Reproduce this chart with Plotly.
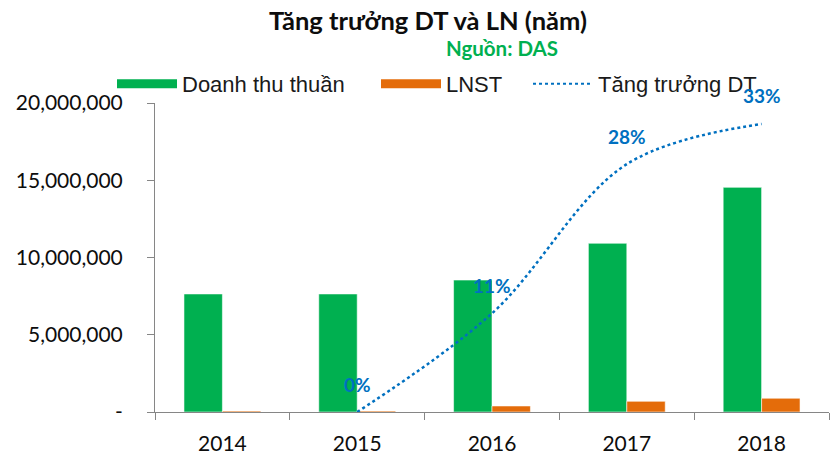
import plotly.graph_objects as go

years = ["2014", "2015", "2016", "2017", "2018"]
doanh_thu = [7640000, 7640000, 8540000, 10920000, 14540000]
lnst = [60000, 60000, 390000, 690000, 890000]
tang_truong = [None, 0.0, 0.113, 0.284, 0.33]
y_ticks = [0, 5000000, 10000000, 15000000, 20000000]
y_ticktext = ["-", "5,000,000", "10,000,000", "15,000,000", "20,000,000"]

GREEN = "#00B050"
ORANGE = "#E46C0A"
BLUE = "#0070C0"
AXIS = "#868686"
TXT = "#0d0d0d"

fig = go.Figure()
fig.add_trace(go.Bar(x=years, y=doanh_thu, name="Doanh thu thuần", marker=dict(color=GREEN, line=dict(color="rgba(255,255,255,0.55)", width=1)), showlegend=False))
fig.add_trace(go.Bar(x=years, y=lnst, name="LNST", marker=dict(color=ORANGE, line=dict(color="rgba(255,255,255,0.55)", width=1)), showlegend=False))
fig.add_trace(go.Scatter(x=years, y=tang_truong, name="Tăng trưởng DT", yaxis="y2", mode="lines",
                         line=dict(color=BLUE, width=2.5, dash="dot", shape="spline", smoothing=1.0),
                         connectgaps=False, showlegend=False))
# legend proxies (one legend each, for positioning)
fig.add_trace(go.Scatter(x=[None], y=[None], mode="lines", name="Doanh thu thuần", line=dict(color=GREEN, width=9), legend="legend"))
fig.add_trace(go.Scatter(x=[None], y=[None], mode="lines", name="LNST", line=dict(color=ORANGE, width=9), legend="legend2"))
fig.add_trace(go.Scatter(x=[None], y=[None], mode="lines", name="Tăng trưởng DT", yaxis="y2", line=dict(color=BLUE, width=2, dash="dot"), legend="legend3"))

for i, v in enumerate(tang_truong):
    if v is None:
        continue
    fig.add_annotation(x=i, y=v, xref="x", yref="y2", text=f"{round(v*100)}%", showarrow=False,
                       yshift=28, font=dict(family="Lato", size=19, color=BLUE, weight="bold"))

fig.add_annotation(x=428/831, xref="paper", y=1.178, yref="paper", text="Nguồn: DAS", showarrow=False,
                   font=dict(family="Lato", size=20.5, color=GREEN, weight="bold"), xanchor="center", yanchor="middle")

def leg(x):
    return dict(orientation="h", xref="container", yref="container", x=x/831, y=1-84/456, yanchor="middle", xanchor="left",
                font=dict(family="Liberation Sans", size=22, color="#1a1a1a"), bgcolor="rgba(0,0,0,0)",
                itemwidth=60)

fig.update_layout(
    width=831, height=456,
    margin=dict(l=155, r=2, t=103, b=44, autoexpand=False),
    paper_bgcolor="white", plot_bgcolor="white",
    barmode="group", bargap=0.43, bargroupgap=0,
    title=dict(text="<b>Tăng trưởng DT và LN (năm)</b>", x=428/831, xanchor="center", y=1-21/456, yanchor="middle",
               xref="container", yref="container", font=dict(family="Lato", size=25.5, color=TXT)),
    legend=leg(112), legend2=leg(376), legend3=leg(528),
    xaxis=dict(type="category", range=[-0.5, 4.5], showline=True, linecolor=AXIS, linewidth=1,
               ticks="outside", tickson="boundaries", ticklen=7, tickcolor=AXIS, showgrid=False,
               tickfont=dict(family="Lato", size=21, color=TXT), ticklabelstandoff=13),
    yaxis=dict(range=[0, 20000000], tickvals=y_ticks, ticktext=y_ticktext, showline=True, linecolor=AXIS, linewidth=1,
               ticks="outside", ticklen=7, tickcolor=AXIS, showgrid=False, zeroline=False,
               tickfont=dict(family="Lato", size=21, color=TXT), ticklabelstandoff=20),
    yaxis2=dict(overlaying="y", side="right", range=[0, 0.354], showticklabels=False, showline=False, ticks="",
                showgrid=False, zeroline=False),
)

fig.write_html("out.html", config={"displayModeBar": False},
               post_script="document.body.style.margin='0';document.body.style.overflow='hidden';")
